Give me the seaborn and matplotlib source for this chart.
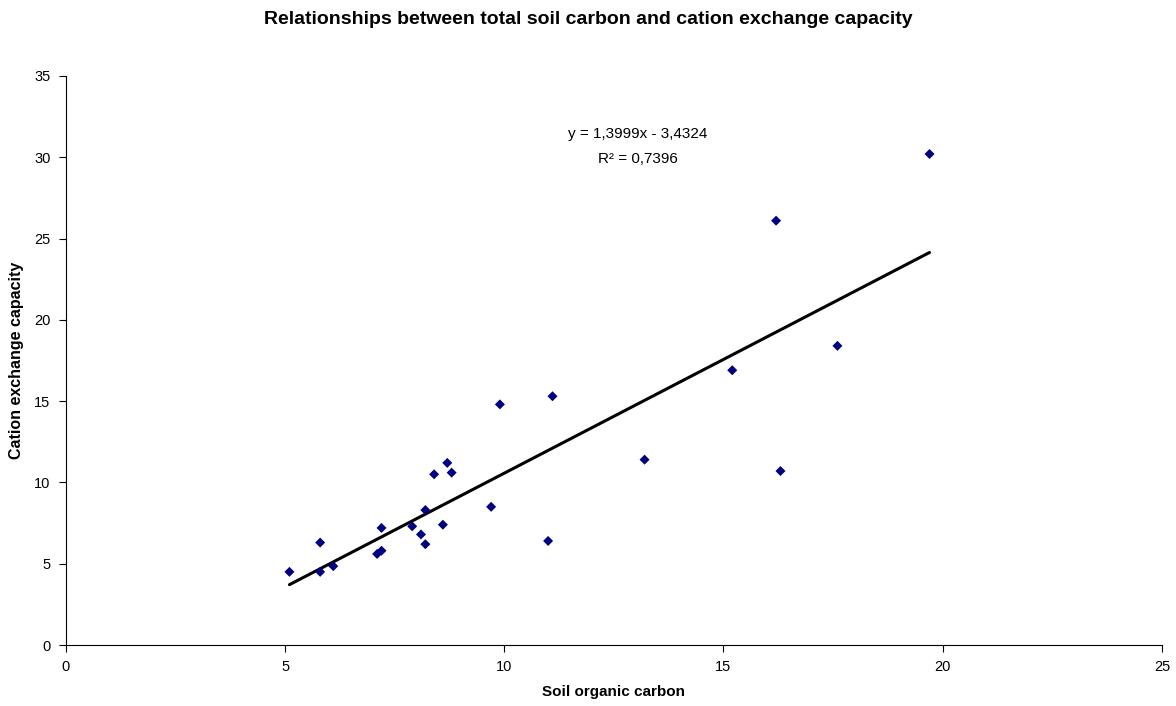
import matplotlib
matplotlib.use("Agg")
import matplotlib.pyplot as plt
import seaborn as sns
import pandas as pd

# soil samples
soil_carbon = [5.1, 5.8, 5.8, 6.1, 7.1, 7.2, 7.2, 7.9, 8.1, 8.2, 8.2, 8.4, 8.6,
               8.7, 8.8, 9.7, 9.9, 11.0, 11.1, 13.2, 15.2, 16.2, 16.3, 17.6, 19.7]
cec = [4.5, 6.3, 4.5, 4.85, 5.6, 5.8, 7.2, 7.3, 6.8, 8.3, 6.2, 10.5, 7.4,
       11.2, 10.6, 8.5, 14.8, 6.4, 15.3, 11.4, 16.9, 26.1, 10.7, 18.4, 30.2]
x_ticks = [0, 5, 10, 15, 20, 25]
y_ticks = [0, 5, 10, 15, 20, 25, 30, 35]
equation = "y = 1,3999x - 3,4324"
r_squared = "R² = 0,7396"

df = pd.DataFrame({"carbon": soil_carbon, "cec": cec})

sns.set_style("white")
plt.rcParams["font.family"] = ["Liberation Sans", "DejaVu Sans"]
plt.rcParams["text.color"] = "black"
plt.rcParams["axes.labelcolor"] = "black"

fig = plt.figure(figsize=(11.76, 7.06), dpi=100)
ax = fig.add_axes([0.056, 0.0864, 0.932, 0.806])

sns.regplot(data=df, x="carbon", y="cec", ax=ax, ci=None, truncate=True,
            scatter=False, line_kws={"color": "black", "linewidth": 2.2})
sns.scatterplot(data=df, x="carbon", y="cec", ax=ax, marker="D", s=26,
                color="#000080", edgecolor="none", zorder=3)

ax.set_xlim(0, 25)
ax.set_ylim(0, 35)
ax.set_xticks(x_ticks)
ax.set_yticks(y_ticks)
ax.tick_params(axis="both", labelsize=10.5, length=5, width=0.8, direction="out",
               colors="black", left=True, bottom=True, pad=6)
for side in ["top", "right"]:
    ax.spines[side].set_visible(False)
for side in ["left", "bottom"]:
    ax.spines[side].set_color("black")
    ax.spines[side].set_linewidth(0.8)

ax.set_xlabel("Soil organic carbon", fontsize=11, fontweight="bold", labelpad=8)
ax.set_ylabel("Cation exchange capacity", fontsize=11.5, fontweight="bold", labelpad=7)
fig.text(0.5, 0.973, "Relationships between total soil carbon and cation exchange capacity",
         fontsize=14, fontweight="bold", ha="center", va="center")

ax.text(13.05, 31.4, equation, ha="center", va="center", fontsize=11)
ax.text(13.05, 29.9, r_squared, ha="center", va="center", fontsize=11)

fig.savefig("out.png", dpi=100)
